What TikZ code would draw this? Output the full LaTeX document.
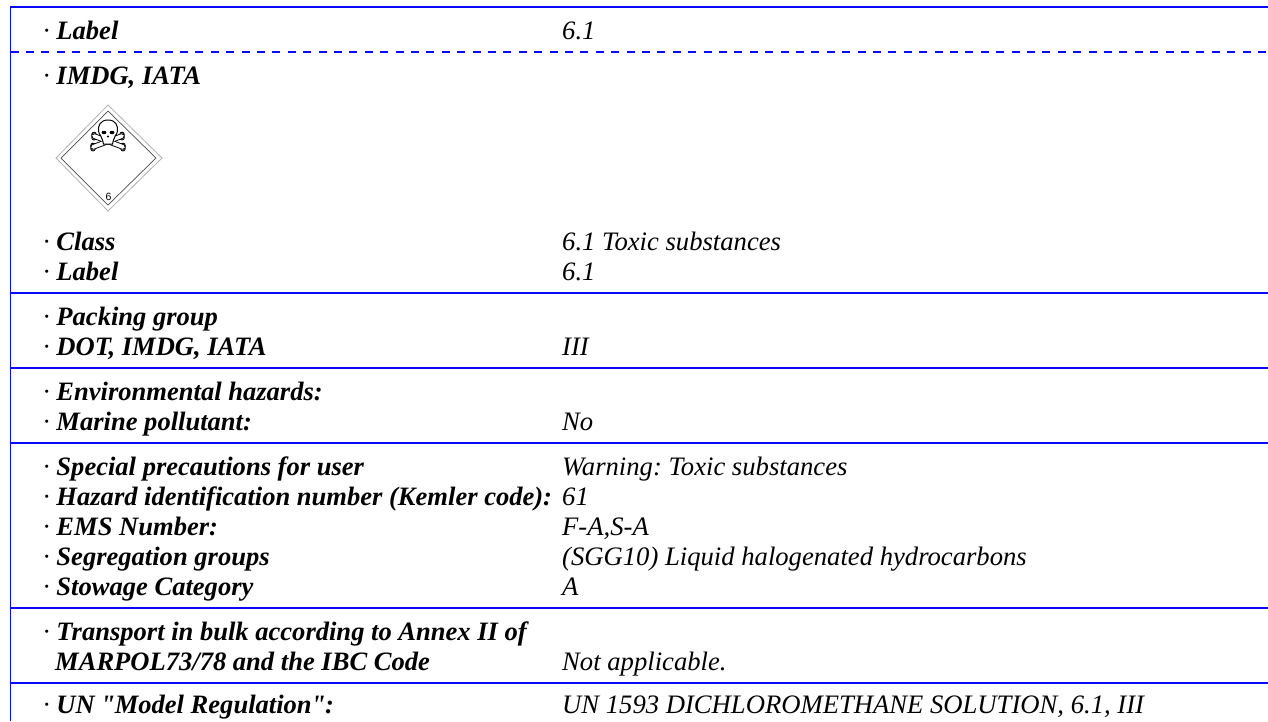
\documentclass[tikz,border=0pt]{standalone}
\usepackage{fontspec}
\setmainfont{Liberation Serif}
\newfontfamily\rawserif{Liberation Serif}
\newfontfamily\arialfont{Liberation Sans}
\definecolor{rulblue}{RGB}{10,10,250}
\tikzset{
  rulel/.style={draw=rulblue,line width=1.5pt},
  ruledash/.style={draw=rulblue,line width=1.2pt,dash pattern=on 8pt off 7.4pt},
  lab/.style={anchor=base west,inner sep=0pt,font=\fontsize{26.55}{30}\selectfont\bfseries\itshape},
  val/.style={anchor=base west,inner sep=0pt,font=\fontsize{26.65}{30}\selectfont\itshape},
  bonek/.style={draw=black,line width=5.6pt,line cap=round},
  bonew/.style={draw=white,line width=3.8pt,line cap=round},
  knob/.style={draw=black,fill=white,line width=.9pt},
}
\newcommand{\dotlab}{{\normalfont\itshape·}\ }
\newcommand{\straightq}{{\rawserif\bfseries\itshape\kern-.7pt"\kern-.7pt}}
\frenchspacing
\begin{document}
\begin{tikzpicture}[x=1pt,y=-1pt]
\useasboundingbox (0,0) rectangle (1268,721);
\fill[white] (0,0) rectangle (1268,721);
% rules
\draw[rulel] (10.5,721) -- (10.5,7) -- (1268,7);
\draw[ruledash] (10.5,52) -- (1268,52);
\foreach \yy in {293,368,443,608,683} \draw[rulel] (10.5,\yy) -- (1268,\yy);
% placard
\draw[gray!60,line width=.8pt] (108,105) -- (162,158) -- (108,211) -- (56,158) -- cycle;
\draw[black!70,line width=.7pt] (108,111) -- (156,158) -- (108,205) -- (61,158) -- cycle;
\node[inner sep=0pt,font=\arialfont\fontsize{10.5}{12}\selectfont] (six) at (108.5,197) {6};
% bones
\foreach \ax/\ay/\bx/\by in {94/136/123/147,122/136/93/147}{
  \draw[knob] (\ax,\ay-1.6) circle (2.2) (\ax,\ay+1.8) circle (2.2);
  \draw[knob] (\bx,\by-1.6) circle (2.2) (\bx,\by+1.8) circle (2.2);
}
\draw[bonek] (94,136) -- (123,147);
\draw[bonek] (122,136) -- (93,147);
\draw[bonew] (94,136) -- (123,147);
\draw[bonew] (122,136) -- (93,147);
% skull
\draw[fill=white,line width=1pt] (108,120) .. controls (100,120) and (98,126) .. (98.5,131)
  .. controls (99,135.5) and (102.5,136) .. (102.5,140) -- (103.5,144) -- (112.5,144) -- (113.5,140)
  .. controls (113.5,136) and (117,135.5) .. (117.5,131) .. controls (118,126) and (116,120) .. (108,120) -- cycle;
\fill (104,132.5) ellipse (2.4 and 1.7);
\fill (112,132.5) ellipse (2.4 and 1.7);
\fill (108,136.5) circle (1.1);
% texts, left column
\node[lab] (a1) at (43,39) {\dotlab Label};
\node[lab] (a2) at (43,84) {\dotlab IMDG, IATA};
\node[lab] (a3) at (43,250) {\dotlab Class};
\node[lab] (a4) at (43,280) {\dotlab Label};
\node[lab] (a5) at (43,325) {\dotlab Packing group};
\node[lab] (a6) at (43,355) {\dotlab DOT, IMDG, IATA};
\node[lab] (a7) at (43,400) {\dotlab Environmental hazards:};
\node[lab] (a8) at (43,430) {\dotlab Marine pollutant:};
\node[lab] (a9) at (43,475) {\dotlab Special precautions for user};
\node[lab] (a10) at (43,505) {\dotlab Hazard identification number (Kemler code):};
\node[lab] (a11) at (43,535) {\dotlab EMS Number:};
\node[lab] (a12) at (43,565) {\dotlab Segregation groups};
\node[lab] (a13) at (43,595) {\dotlab Stowage Category};
\node[lab] (a14) at (43,640) {\dotlab Transport in bulk according to Annex II of};
\node[lab] (a15) at (55,670) {MARPOL73/78 and the IBC Code};
\node[lab] (a16) at (43,713) {\dotlab UN \straightq Model Regulation\straightq:};
% texts, right column
\node[val] (b1) at (562,39) {6.1};
\node[val] (b3) at (562,250) {6.1 Toxic substances};
\node[val] (b4) at (562,280) {6.1};
\node[val] (b6) at (562,355) {III};
\node[val] (b8) at (562,430) {No};
\node[val] (b9) at (562,475) {Warning: Toxic substances};
\node[val] (b10) at (562,505) {61};
\node[val] (b11) at (562,535) {F-A,S-A};
\node[val] (b12) at (562,565) {(SGG10) Liquid halogenated hydrocarbons};
\node[val] (b13) at (562,595) {A};
\node[val] (b15) at (562,670) {Not applicable.};
\node[val] (b16) at (562,713) {UN 1593 DICHLOROMETHANE SOLUTION, 6.1, III};
\end{tikzpicture}
\end{document}
